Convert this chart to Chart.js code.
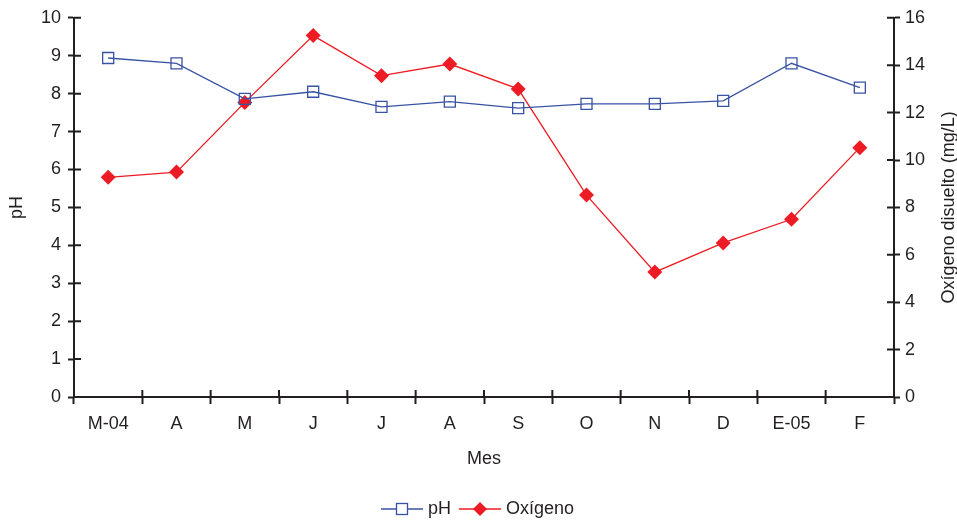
<!DOCTYPE html>
<html>
<head>
<meta charset="utf-8">
<script src="https://cdn.jsdelivr.net/npm/chart.js@4/dist/chart.umd.min.js"></script>
<style>
  html, body { margin: 0; padding: 0; background: #fff; }
  #chart { display: block; }
</style>
</head>
<body>
<canvas id="chart" width="957" height="520"></canvas>
<script>
const MONTHS = ['M-04', 'A', 'M', 'J', 'J', 'A', 'S', 'O', 'N', 'D', 'E-05', 'F'];
const PH = [8.94, 8.8, 7.86, 8.05, 7.65, 7.79, 7.62, 7.73, 7.73, 7.81, 8.8, 8.16];
const OXYGEN = [9.27, 9.49, 12.43, 15.25, 13.56, 14.05, 13.0, 8.52, 5.27, 6.5, 7.5, 10.52];
const PH_TICKS = [0, 10, 1];
const OXYGEN_TICKS = [0, 16, 2];
const OXYGEN_TITLE = 'Oxígeno disuelto (mg/L)';

const INK = '#231f20';
const BLUE = '#3953a4';
const RED = '#ed1c24';
const FONT = { family: 'Liberation Sans, Arial, sans-serif', size: 18 };

// legend sample: short line with the marker in the middle
function legendSample(color, drawMarker) {
    const c = document.createElement('canvas');
    c.width = 48;
    c.height = 16;
    const g = c.getContext('2d');
    g.strokeStyle = color;
    g.lineWidth = 1.3;
    g.beginPath();
    g.moveTo(4, 8);
    g.lineTo(46, 8);
    g.stroke();
    drawMarker(g);
    return c;
}

const phSample = legendSample(BLUE, g => {
    g.fillStyle = '#fff';
    g.fillRect(19.5, 2.5, 11, 11);
    g.lineWidth = 1.3;
    g.strokeRect(19.5, 2.5, 11, 11);
});
const oxySample = legendSample(RED, g => {
    g.fillStyle = RED;
    g.beginPath();
    g.moveTo(25, 1);
    g.lineTo(32, 8);
    g.lineTo(25, 15);
    g.lineTo(18, 8);
    g.closePath();
    g.fill();
});

// tick marks that cross the axis lines (inner half) + right title read bottom-up
const axisExtras = {
    id: 'axisExtras',
    afterDraw(chart) {
        const ctx = chart.ctx;
        const { x, y, y1 } = chart.scales;
        const len = 7;
        ctx.save();
        ctx.strokeStyle = INK;
        ctx.lineWidth = 2;
        ctx.beginPath();
        y.ticks.forEach(t => {
            const py = y.getPixelForValue(t.value);
            ctx.moveTo(y.right, py);
            ctx.lineTo(y.right + len, py);
        });
        y1.ticks.forEach(t => {
            const py = y1.getPixelForValue(t.value);
            ctx.moveTo(y1.left, py);
            ctx.lineTo(y1.left - len, py);
        });
        const step = x.getPixelForValue(1) - x.getPixelForValue(0);
        const start = x.getPixelForValue(0) - step / 2;
        for (let i = 0; i <= MONTHS.length; i++) {
            const px = start + i * step;
            ctx.moveTo(px, x.top);
            ctx.lineTo(px, x.top - len);
        }
        ctx.stroke();

        const area = chart.chartArea;
        ctx.translate(y1.right - 8, (area.top + area.bottom) / 2);
        ctx.rotate(-Math.PI / 2);
        ctx.fillStyle = INK;
        ctx.font = `${FONT.size}px ${FONT.family}`;
        ctx.textAlign = 'center';
        ctx.textBaseline = 'middle';
        ctx.fillText(OXYGEN_TITLE, 0, 0);
        ctx.restore();
    }
};

new Chart(document.getElementById('chart'), {
    type: 'line',
    data: {
        labels: MONTHS,
        datasets: [{
            label: 'pH',
            data: PH,
            yAxisID: 'y',
            borderColor: BLUE,
            borderWidth: 1.3,
            pointStyle: 'rect',
            pointRadius: 7.8,
            pointBorderWidth: 1.3,
            pointBorderColor: BLUE,
            pointBackgroundColor: 'rgba(255,255,255,0)',
            tension: 0
        }, {
            label: 'Oxígeno',
            data: OXYGEN,
            yAxisID: 'y1',
            borderColor: RED,
            borderWidth: 1.3,
            pointStyle: 'rectRot',
            pointRadius: 7.5,
            pointBorderWidth: 0,
            pointBackgroundColor: RED,
            tension: 0
        }]
    },
    options: {
        responsive: false,
        animation: false,
        events: [],
        layout: { padding: { top: 17, bottom: -8, left: 0, right: 0 } },
        plugins: {
            tooltip: { enabled: false },
            legend: {
                position: 'bottom',
                labels: {
                    usePointStyle: true,
                    pointStyleWidth: 36,
                    padding: 10,
                    color: INK,
                    font: FONT,
                    generateLabels: () => [
                        { text: 'pH', pointStyle: phSample, datasetIndex: 0, fontColor: INK, lineWidth: 0, hidden: false },
                        { text: 'Oxígeno', pointStyle: oxySample, datasetIndex: 1, fontColor: INK, lineWidth: 0, hidden: false }
                    ]
                }
            }
        },
        scales: {
            x: {
                offset: true,
                grid: { offset: true, drawOnChartArea: false, tickLength: 7, tickWidth: 2, tickColor: INK },
                border: { color: INK, width: 2 },
                ticks: { color: INK, font: FONT, padding: 9, maxRotation: 0, autoSkip: false },
                title: { display: true, text: 'Mes', color: INK, font: { ...FONT, lineHeight: 1 }, padding: { top: 0, bottom: 22 } },
                afterFit: s => { s.height = 93; }
            },
            y: {
                position: 'left',
                min: PH_TICKS[0],
                max: PH_TICKS[1],
                grid: { drawOnChartArea: false, tickLength: 6, tickWidth: 2, tickColor: INK },
                border: { color: INK, width: 2 },
                ticks: { stepSize: PH_TICKS[2], color: INK, font: FONT, padding: 7 },
                title: { display: true, text: 'pH', color: INK, font: { ...FONT, lineHeight: 1 }, padding: { top: 8, bottom: 0 } },
                afterFit: s => { s.width = 74; }
            },
            y1: {
                position: 'right',
                min: OXYGEN_TICKS[0],
                max: OXYGEN_TICKS[1],
                grid: { drawOnChartArea: false, tickLength: 6, tickWidth: 2, tickColor: INK },
                border: { color: INK, width: 2 },
                ticks: { stepSize: OXYGEN_TICKS[2], color: INK, font: FONT, padding: 5 },
                afterFit: s => { s.width = 63; }
            }
        }
    },
    plugins: [axisExtras]
});
</script>
</body>
</html>
